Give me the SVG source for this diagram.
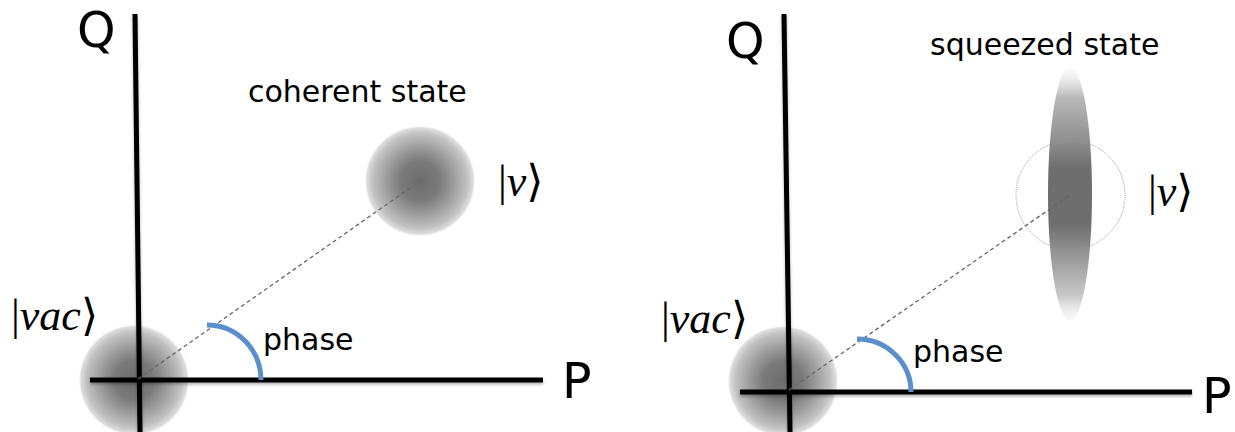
<svg xmlns="http://www.w3.org/2000/svg" width="1235" height="432" viewBox="0 0 1235 432">
<style>
.axis{stroke:#000;stroke-width:5;fill:none;filter:url(#shadow)}
.lbl{font-family:"DejaVu Sans",Verdana,sans-serif;fill:#000}
.big{font-size:49px}
.mid{font-size:30px}
.ket{font-family:"Liberation Serif","DejaVu Serif",serif;font-size:44px;fill:#000}
.ang{font-family:"DejaVu Serif",serif}
.dash{stroke:#666;stroke-width:1.3;stroke-dasharray:4 3;fill:none}
.arc{stroke:#5b8fcb;stroke-width:5;fill:none}
</style>
<defs>
<filter id="shadow" filterUnits="userSpaceOnUse" x="0" y="0" width="1235" height="432">
<feDropShadow dx="0" dy="2" stdDeviation="1.5" flood-color="#000" flood-opacity="0.3"/>
</filter>
<radialGradient id="blob" cx="0.5" cy="0.5" r="0.5">
<stop offset="0" stop-color="#6c6c6c"/>
<stop offset="0.35" stop-color="#7a7a7a"/>
<stop offset="0.6" stop-color="#9c9c9c"/>
<stop offset="0.85" stop-color="#c2c2c2"/>
<stop offset="0.95" stop-color="#d4d4d4" stop-opacity="0.8"/>
<stop offset="1" stop-color="#fff" stop-opacity="0"/>
</radialGradient>
<linearGradient id="sq" x1="0" y1="0" x2="0" y2="1">
<stop offset="0" stop-color="#eeeeee" stop-opacity="0.2"/>
<stop offset="0.12" stop-color="#b8b8b8"/>
<stop offset="0.3" stop-color="#8c8c8c"/>
<stop offset="0.4" stop-color="#6e6e6e"/>
<stop offset="0.62" stop-color="#6e6e6e"/>
<stop offset="0.75" stop-color="#9a9a9a"/>
<stop offset="0.9" stop-color="#c8c8c8"/>
<stop offset="1" stop-color="#f0f0f0" stop-opacity="0.3"/>
</linearGradient>
</defs>

<g id="left-panel">
<g id="vac-left"><circle cx="134" cy="380" r="56" fill="url(#blob)"/></g>
<g id="coherent"><circle cx="420" cy="181" r="56" fill="url(#blob)"/></g>
<g id="axes-left">
<line class="axis" x1="135" y1="14" x2="140" y2="432"/>
<line class="axis" x1="90" y1="380" x2="543" y2="380"/>
</g>
<g id="connectors-left">
<line class="dash" x1="138" y1="379" x2="420" y2="181"/>
<path class="arc" d="M207,325 A54,55 0 0 1 261,380"/>
</g>
<text class="lbl big" x="77" y="47">Q</text>
<text class="lbl big" x="562" y="398">P</text>
<text class="lbl mid" x="248" y="102">coherent state</text>
<text class="lbl mid" x="263" y="350">phase</text>
<text class="ket" x="498" y="196">|<tspan font-style="italic">v</tspan><tspan class="ang">⟩</tspan></text>
<text class="ket" x="11" y="330">|<tspan font-style="italic">vac</tspan><tspan class="ang">⟩</tspan></text>
</g>

<g id="right-panel">
<g id="vac-right"><circle cx="783" cy="381" r="56" fill="url(#blob)"/></g>
<g id="squeezed"><ellipse cx="1070" cy="194" rx="22" ry="127" fill="url(#sq)"/>
<circle cx="1070.5" cy="195" r="54.5" fill="none" stroke="#999" stroke-width="1" stroke-dasharray="1 1"/></g>
<g id="axes-right">
<line class="axis" x1="784" y1="14" x2="790" y2="432"/>
<line class="axis" x1="740" y1="392" x2="1192" y2="392"/>
</g>
<g id="connectors-right">
<line class="dash" x1="789" y1="390" x2="1070" y2="195"/>
<path class="arc" d="M857,339 A54,53 0 0 1 911,392"/>
</g>
<text class="lbl big" x="726" y="58">Q</text>
<text class="lbl big" x="1202" y="413">P</text>
<text class="lbl mid" x="930" y="55">squeezed state</text>
<text class="lbl mid" x="913" y="362">phase</text>
<text class="ket" x="1148" y="206">|<tspan font-style="italic">v</tspan><tspan class="ang">⟩</tspan></text>
<text class="ket" x="661" y="333">|<tspan font-style="italic">vac</tspan><tspan class="ang">⟩</tspan></text>
</g>
</svg>
